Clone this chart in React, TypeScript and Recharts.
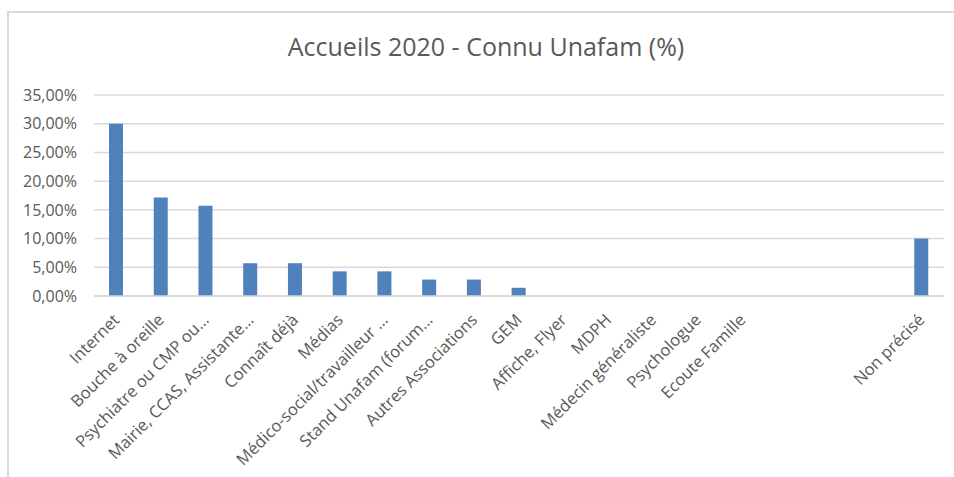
import React from "react";
import { BarChart, Bar, XAxis, YAxis, CartesianGrid } from "recharts";

const categories = [
  "Internet",
  "Bouche à oreille",
  "Psychiatre ou CMP ou…",
  "Mairie, CCAS, Assistante…",
  "Connaît déjà",
  "Médias",
  "Médico-social/travailleur …",
  "Stand Unafam (forum…",
  "Autres Associations",
  "GEM",
  "Affiche, Flyer",
  "MDPH",
  "Médecin généraliste",
  "Psychologue",
  "Ecoute Famille",
  " ",
  "  ",
  "   ",
  "Non précisé",
];

const values = [30.0, 17.14, 15.71, 5.71, 5.71, 4.29, 4.29, 2.86, 2.86, 1.43, 0, 0, 0, 0, 0, 0, 0, 0, 10.0];

const yTicks = [0, 5, 10, 15, 20, 25, 30, 35];

const title = "Accueils 2020 - Connu Unafam (%)";

const data = categories.map((c, i) => ({ name: c, value: values[i] }));

const FONT = "'Open Sans', Lato, sans-serif";
const TEXT = "#595959";

const fmt = (v: number) => v.toFixed(2).replace(".", ",") + "%";

const XTick = (props: any) => {
  const { x, y, payload } = props;
  const tx = x + 4;
  const ty = y + 25;
  return (
    <text
      x={tx}
      y={ty}
      transform={`rotate(-45, ${tx}, ${ty})`}
      textAnchor="end"
      fill={TEXT}
      fontSize={16.5}
      fontFamily={FONT}
    >
      {payload.value}
    </text>
  );
};

export default function App() {
  return (
    <div style={{ position: "absolute", left: 0, top: 0, width: 954, height: 477, overflow: "hidden", background: "#fff" }}>
      <div
        style={{
          position: "absolute",
          left: 7,
          top: 11,
          width: 1000,
          height: 500,
          borderTop: "2px solid #d9d9d9",
          borderLeft: "2px solid #d9d9d9",
        }}
      />
      <div
        style={{
          position: "absolute",
          left: 236,
          width: 500,
          top: 29,
          textAlign: "center",
          fontFamily: FONT,
          fontSize: 25,
          color: TEXT,
          whiteSpace: "nowrap",
        }}
      >
        {title}
      </div>
      <div style={{ position: "absolute", left: 0, top: 0 }}>
        <BarChart
          width={954}
          height={477}
          data={data}
          margin={{ top: 95, right: 10, left: 14, bottom: 11 }}
        >
          <CartesianGrid vertical={false} stroke="#d9d9d9" strokeWidth={1.5} />
          <XAxis
            dataKey="name"
            interval={0}
            height={170}
            tickLine={false}
            axisLine={{ stroke: "#d9d9d9", strokeWidth: 1.5 }}
            tickSize={0}
            tickMargin={0}
            tick={<XTick />}
          />
          <YAxis
            width={80}
            domain={[0, 35]}
            ticks={yTicks}
            tickFormatter={fmt}
            axisLine={false}
            tickLine={false}
            tickSize={0}
            tickMargin={17}
            tick={{ fill: TEXT, fontSize: 16, fontFamily: FONT }}
          />
          <Bar dataKey="value" fill="#4f81bd" barSize={14} isAnimationActive={false} />
        </BarChart>
      </div>
    </div>
  );
}
